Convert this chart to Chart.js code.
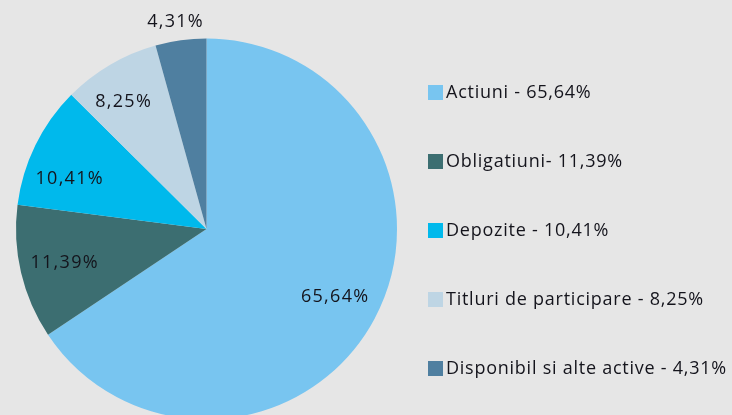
<!DOCTYPE html>
<html lang="ro">
<head>
  <meta charset="UTF-8" />
  <title>Structura activelor</title>
  <script src="https://cdn.jsdelivr.net/npm/chart.js"></script>
  <style>
    html, body {
      margin: 0;
      padding: 0;
      background: #e6e6e6;
      overflow: hidden;
    }
    .chart-box {
      position: relative;
      width: 732px;
      height: 420px;
    }
  </style>
</head>
<body>
  <div class="chart-box">
    <canvas id="pieChart"></canvas>
  </div>

  <script>
    const categories = ['Actiuni', 'Obligatiuni', 'Depozite', 'Titluri de participare', 'Disponibil si alte active'];
    const shares = [65.64, 11.39, 10.41, 8.25, 4.31];
    const legendTexts = [
      'Actiuni - 65,64%',
      'Obligatiuni- 11,39%',
      'Depozite - 10,41%',
      'Titluri de participare - 8,25%',
      'Disponibil si alte active - 4,31%'
    ];
    const sliceColors = ['#78c5f0', '#3c6e71', '#00b9ec', '#bed5e4', '#4f7fa0'];

    // where each value label sits: fraction of radius, angle nudge in degrees
    const labelRadius = [0.76, 0.77, 0.77, 0.8, 1.1];
    const labelNudge = [0, 0, -6, -3, -1];

    function fmt(v) {
      return v.toFixed(2).replace('.', ',') + '%';
    }

    const labelsPlugin = {
      id: 'sliceLabels',
      afterDatasetsDraw(chart) {
        const c = chart.ctx;
        const arcs = chart.getDatasetMeta(0).data;
        c.save();
        c.font = '18px "Open Sans", sans-serif';
        c.letterSpacing = '1.3px';
        c.fillStyle = '#14141c';
        c.textAlign = 'center';
        c.textBaseline = 'middle';
        arcs.forEach((arc, i) => {
          const p = arc.getProps(['x', 'y', 'startAngle', 'endAngle', 'outerRadius'], true);
          const mid = (p.startAngle + p.endAngle) / 2 + labelNudge[i] * Math.PI / 180;
          const r = p.outerRadius * labelRadius[i];
          c.fillText(fmt(shares[i]), p.x + Math.cos(mid) * r + 1, p.y + Math.sin(mid) * r);
        });
        c.restore();
      }
    };

    const legendPlugin = {
      id: 'sideLegend',
      afterDraw(chart) {
        const c = chart.ctx;
        const x0 = 428, y0 = 92, step = 69;
        c.save();
        c.font = '18px "Open Sans", sans-serif';
        c.letterSpacing = '0.75px';
        c.textBaseline = 'middle';
        c.textAlign = 'left';
        legendTexts.forEach((t, i) => {
          const y = y0 + i * step;
          c.fillStyle = sliceColors[i];
          c.fillRect(x0, y - 7, 15, 15);
          c.fillStyle = '#14141c';
          c.fillText(t, x0 + 18, y + 1);
        });
        c.restore();
      }
    };

    new Chart(document.getElementById('pieChart'), {
      type: 'pie',
      data: {
        labels: categories,
        datasets: [{
          data: shares,
          backgroundColor: sliceColors,
          borderWidth: 0
        }]
      },
      options: {
        responsive: true,
        maintainAspectRatio: false,
        animation: false,
        layout: {
          padding: { left: 16, top: 38, right: 335, bottom: 0 }
        },
        plugins: {
          legend: { display: false },
          tooltip: { enabled: false }
        }
      },
      plugins: [labelsPlugin, legendPlugin]
    });
  </script>
</body>
</html>
